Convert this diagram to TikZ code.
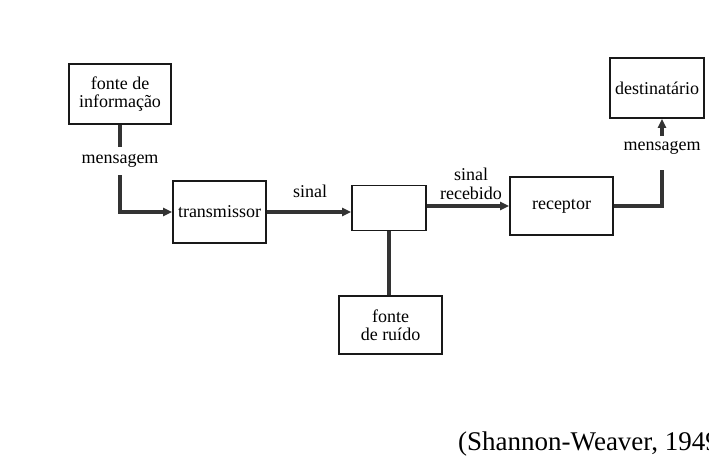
\documentclass[tikz,border=0pt]{standalone}
\usepackage{fontspec}
\setmainfont{Liberation Serif}
\usetikzlibrary{arrows.meta,calc}
\begin{document}
\begin{tikzpicture}[x=1pt,y=-1pt,
  box/.style={draw=black!90,line width=1.8pt,fill=white,inner sep=0pt,align=center,
    font=\fontsize{18}{18.5}\selectfont},
  conn/.style={draw=black!80,line width=3.2pt},
  arr/.style={conn,-{Triangle[length=9pt,width=8pt]}},
  lbl/.style={inner sep=0pt,align=center,font=\fontsize{18}{18.5}\selectfont}]
\useasboundingbox (0,0) rectangle (709,464);
\clip (0,0) rectangle (709,464);
% boxes
\node[box,minimum width=102pt,minimum height=60pt] (info) at (120,94) {fonte de\\informação};
\node[box,minimum width=93pt,minimum height=62pt] (trans) at (219.5,212) {transmissor};
\node[box,minimum width=74pt,minimum height=45pt] (mid) at (389,208) {};
\node[box,minimum width=103pt,minimum height=58pt] (noise) at (390.5,325) {fonte\\de ruído};
\node[box,minimum width=103pt,minimum height=58pt] (rec) at (561.5,206) {receptor};
\node[box,minimum width=94pt,minimum height=60pt] (dest) at (657,88) {destinatário};
% labels
\node[lbl] (m1) at (120,161) {mensagem};
\node[lbl] (s1) at (310,191) {sinal};
\node[lbl] (s2) at (471,184) {sinal\\recebido};
\node[lbl] (m2) at (662,148) {mensagem};
\node[inner sep=0pt,anchor=base west,font=\fontsize{27}{30}\selectfont] (cap) at (458,450) {(Shannon-Weaver, 1949)};
% connector coordinates
\coordinate (a1) at (120,147);
\coordinate (a2) at (120,175);
\coordinate (b1) at (662,170);
\coordinate (b2) at (662,136);
% connectors
\draw[conn] (info.south) -- (a1);
\draw[arr] (a2) |- (trans.west);
\draw[arr] (trans.east) -- (trans.east -| mid.west);
\draw[conn] (mid.south) -- (mid.south |- noise.north);
\draw[arr] (mid.east |- rec.west) -- (rec.west);
\draw[conn] (rec.east) -| (b1);
\draw[arr] (b2) -- (b2 |- dest.south);
\end{tikzpicture}
\end{document}
